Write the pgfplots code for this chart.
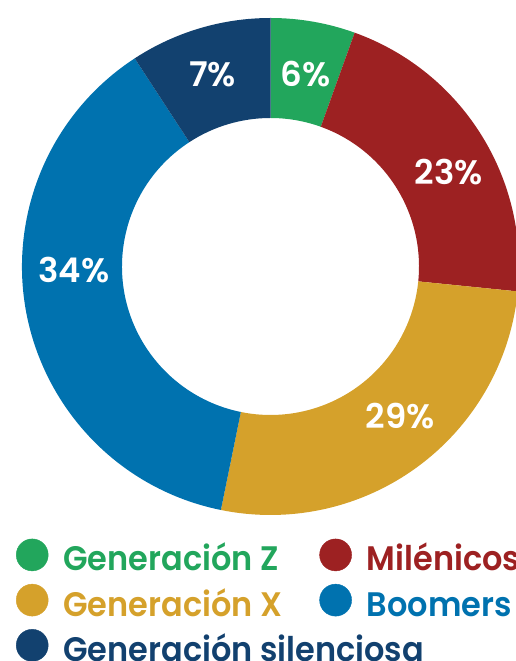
\documentclass[border=0pt]{standalone}
\usepackage{fontspec}
\setmainfont{Poppins SemiBold}
\newfontfamily\legfam{Poppins SemiBold}[FakeStretch=0.94]
\usepackage{pgfplots}
\pgfplotsset{compat=1.18}
\definecolor{gz}{RGB}{34,166,92}
\definecolor{mil}{RGB}{157,33,34}
\definecolor{gx}{RGB}{213,161,43}
\definecolor{boo}{RGB}{0,114,175}
\definecolor{sil}{RGB}{18,65,111}
\newcommand\bigf{\fontsize{34pt}{40pt}\selectfont}
\newcommand\legf{\legfam\fontsize{34pt}{40pt}\selectfont}
\begin{document}
\begin{tikzpicture}
\begin{axis}[
  x=1pt, y=1pt,
  xmin=-270.5, xmax=244.5, ymin=-394.5, ymax=266.5,
  hide axis, scale only axis, clip=false,
  legend columns=2,
  legend cell align=left,
  legend image code/.code={\fill[#1] (0pt,8pt) circle (16pt);},
  legend style={draw=none, fill=none, inner sep=0pt, outer sep=0pt,
     at={(axis description cs:0.0311,0.1850)}, anchor=north west,
     font=\legf, row sep=5pt,
     nodes={inner sep=0pt, text height=24pt, text depth=8pt},
     /tikz/every odd column/.append style={column sep=15pt},
     /tikz/every even column/.append style={column sep=30pt},
  },
]
\gdef\cum{0}
\foreach \v/\c in {5.5/gz,21.1/mil,26.6/gx,37.6/boo,9.2/sil}{
  \pgfmathsetmacro\a{90-3.6*\cum}
  \pgfmathsetmacro\newcum{\cum+\v}
  \pgfmathsetmacro\b{90-3.6*\newcum}
  \xdef\cum{\newcum}
  \edef\tmp{\noexpand\fill[\c] (axis cs:{248.5*cos(\a)},{248.5*sin(\a)}) arc[start angle=\a, end angle=\b, radius=248.5pt] -- (axis cs:{148.5*cos(\b)},{148.5*sin(\b)}) arc[start angle=\b, end angle=\a, radius=148.5pt] -- cycle;}
  \tmp
}
\node[white, font=\bigf] at (axis cs:-58,192.5) {7\%};
\node[white, font=\bigf] at (axis cs:35,192.5) {6\%};
\node[white, font=\bigf] at (axis cs:178.5,94) {23\%};
\node[white, font=\bigf] at (axis cs:129.5,-149.5) {29\%};
\node[white, font=\bigf] at (axis cs:-196.5,-3.5) {34\%};
\addlegendimage{gz}
\addlegendentry{\makebox[226pt][l]{\textcolor{gz}{Generación Z}}}
\addlegendimage{mil}
\addlegendentry{\textcolor{mil}{Milénicos}}
\addlegendimage{gx}
\addlegendentry{\makebox[226pt][l]{\textcolor{gx}{Generación X}}}
\addlegendimage{boo}
\addlegendentry{\textcolor{boo}{Boomers}}
\addlegendimage{sil}
\addlegendentry{\makebox[226pt][l]{\textcolor{sil}{Generación silenciosa}}}
\end{axis}
\pgfresetboundingbox
\useasboundingbox (current axis.south west) rectangle (current axis.north east);
\end{tikzpicture}
\end{document}
